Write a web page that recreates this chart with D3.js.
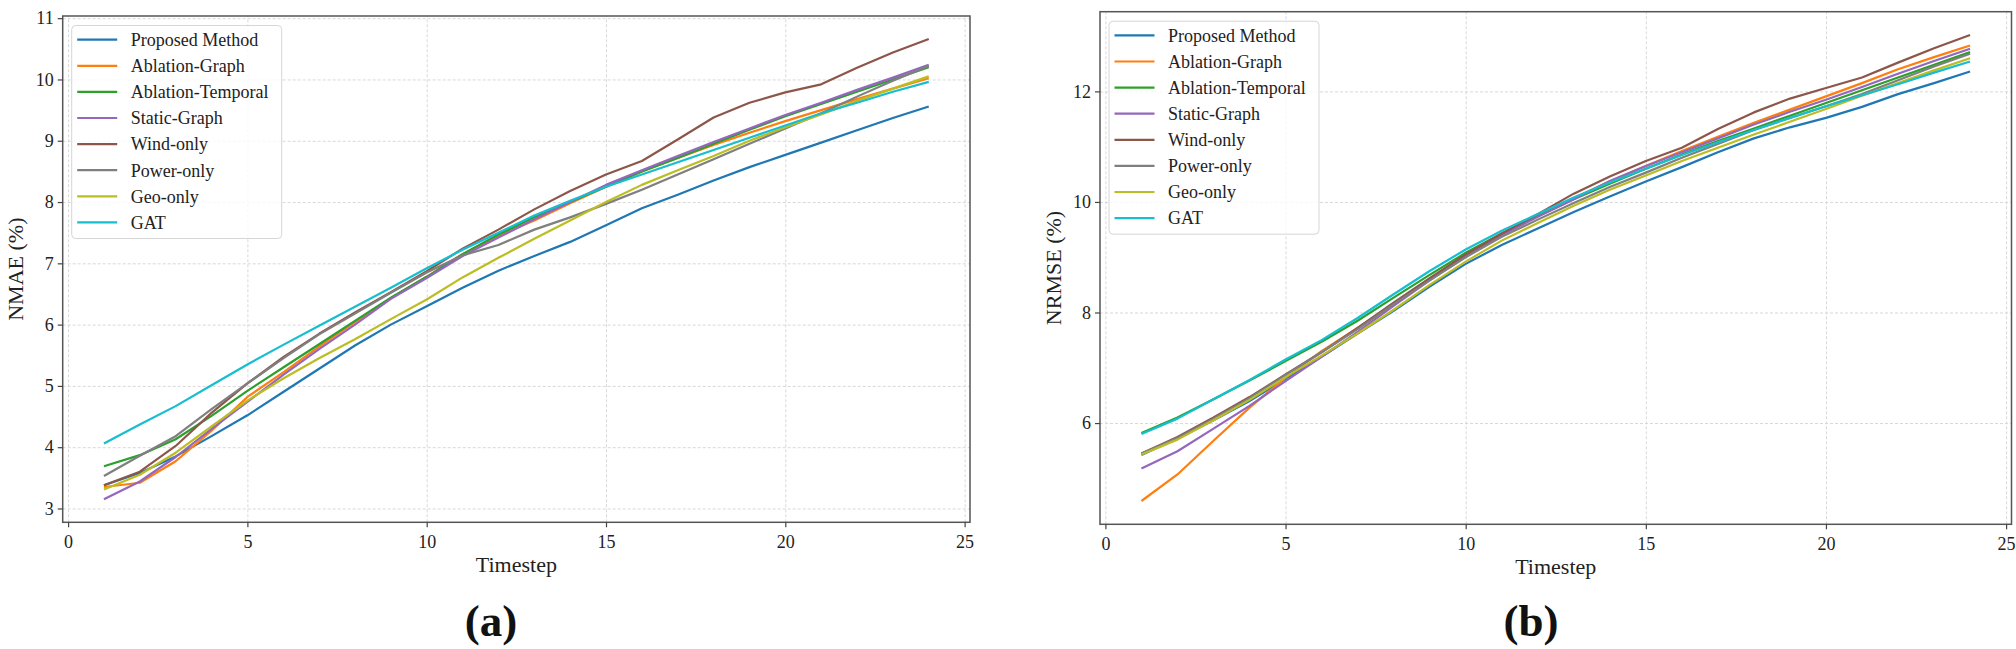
<!DOCTYPE html>
<html>
<head>
<meta charset="utf-8">
<script src="https://cdnjs.cloudflare.com/ajax/libs/d3/7.8.5/d3.min.js"></script>
<style>
  body { margin: 0; background: #fff; }
  svg { display: block; font-family: "Liberation Serif", "Times New Roman", serif; }
  .grid line { stroke: #d8d8d8; stroke-width: 1; stroke-dasharray: 3,2; }
  .grid path { display: none; }
  .axis path { display: none; }
  .axis line { stroke: #444; stroke-width: 1.2; }
  .axis text { font-family: "Liberation Serif", serif; font-size: 18px; fill: #222; }
</style>
</head>
<body>
<svg id="fig" width="2016" height="649"></svg>
<script>
// data
var timesteps = [1, 2, 3, 4, 5, 6, 7, 8, 9, 10, 11, 12, 13, 14, 15, 16, 17, 18, 19, 20, 21, 22, 23, 24];
var seriesNames = ['Proposed Method', 'Ablation-Graph', 'Ablation-Temporal', 'Static-Graph',
                   'Wind-only', 'Power-only', 'Geo-only', 'GAT'];
var seriesColors = ['#1f77b4', '#ff7f0e', '#2ca02c', '#9467bd', '#8c564b', '#7f7f7f', '#bcbd22', '#17becf'];

var xTicks = [0, 5, 10, 15, 20, 25];
var nmaeTicks = [3, 4, 5, 6, 7, 8, 9, 10, 11];
var nrmseTicks = [6, 8, 10, 12];

// (a) NMAE (%)
var nmaeProposed = [3.38, 3.58, 3.85, 4.18, 4.52, 4.9, 5.28, 5.66, 6.0, 6.3, 6.6, 6.88, 7.12, 7.35, 7.62, 7.9, 8.12, 8.35, 8.57, 8.77, 8.97, 9.17, 9.37, 9.56];
var nmaeAblGraph = [3.35, 3.42, 3.77, 4.27, 4.82, 5.22, 5.64, 6.04, 6.43, 6.78, 7.15, 7.45, 7.7, 7.98, 8.25, 8.5, 8.72, 8.93, 9.13, 9.32, 9.5, 9.68, 9.85, 10.02];
var nmaeAblTemp = [3.69, 3.87, 4.13, 4.51, 4.92, 5.3, 5.68, 6.06, 6.44, 6.78, 7.15, 7.47, 7.75, 8.0, 8.25, 8.5, 8.72, 8.95, 9.18, 9.4, 9.6, 9.8, 10.0, 10.2];
var nmaeStatic = [3.15, 3.44, 3.84, 4.3, 4.74, 5.18, 5.6, 6.0, 6.42, 6.76, 7.12, 7.42, 7.72, 8.0, 8.28, 8.52, 8.75, 8.98, 9.2, 9.42, 9.62, 9.83, 10.03, 10.24];
var nmaeWind = [3.38, 3.6, 4.02, 4.56, 5.04, 5.47, 5.85, 6.2, 6.53, 6.87, 7.24, 7.55, 7.88, 8.18, 8.45, 8.67, 9.02, 9.38, 9.62, 9.79, 9.92, 10.19, 10.44, 10.66];
var nmaePower = [3.53, 3.86, 4.18, 4.62, 5.04, 5.45, 5.84, 6.18, 6.52, 6.85, 7.13, 7.3, 7.55, 7.75, 7.97, 8.2, 8.45, 8.7, 8.95, 9.2, 9.45, 9.72, 9.98, 10.22];
var nmaeGeo = [3.31, 3.55, 3.91, 4.34, 4.76, 5.12, 5.45, 5.76, 6.09, 6.41, 6.77, 7.09, 7.4, 7.7, 8.0, 8.28, 8.52, 8.75, 9.0, 9.22, 9.43, 9.65, 9.85, 10.05];
var nmaeGat = [4.06, 4.37, 4.67, 5.01, 5.35, 5.67, 5.98, 6.29, 6.6, 6.92, 7.22, 7.5, 7.78, 8.02, 8.25, 8.45, 8.65, 8.85, 9.05, 9.25, 9.45, 9.62, 9.8, 9.96];

// (b) NRMSE (%)
var nrmseProposed = [5.42, 5.72, 6.05, 6.4, 6.8, 7.2, 7.62, 8.03, 8.47, 8.88, 9.22, 9.52, 9.82, 10.1, 10.37, 10.63, 10.9, 11.15, 11.35, 11.52, 11.72, 11.95, 12.15, 12.36];
var nrmseAblGraph = [4.59, 5.07, 5.68, 6.28, 6.82, 7.3, 7.72, 8.15, 8.6, 9.03, 9.42, 9.75, 10.07, 10.37, 10.65, 10.92, 11.18, 11.43, 11.67, 11.91, 12.15, 12.4, 12.62, 12.83];
var nrmseAblTemp = [5.82, 6.1, 6.43, 6.77, 7.12, 7.47, 7.85, 8.27, 8.68, 9.08, 9.43, 9.74, 10.05, 10.33, 10.6, 10.86, 11.1, 11.33, 11.56, 11.79, 12.02, 12.25, 12.48, 12.71];
var nrmseStatic = [5.18, 5.49, 5.9, 6.31, 6.76, 7.2, 7.65, 8.12, 8.58, 9.02, 9.4, 9.73, 10.05, 10.38, 10.65, 10.9, 11.15, 11.4, 11.63, 11.85, 12.08, 12.32, 12.55, 12.77];
var nrmseWind = [5.45, 5.75, 6.1, 6.47, 6.88, 7.28, 7.72, 8.18, 8.62, 9.05, 9.43, 9.78, 10.15, 10.46, 10.74, 10.98, 11.32, 11.62, 11.87, 12.06, 12.25, 12.52, 12.78, 13.02];
var nrmsePower = [5.45, 5.73, 6.08, 6.45, 6.87, 7.28, 7.7, 8.15, 8.58, 9.0, 9.37, 9.68, 9.98, 10.27, 10.53, 10.8, 11.05, 11.3, 11.52, 11.73, 11.95, 12.2, 12.45, 12.68];
var nrmseGeo = [5.43, 5.7, 6.05, 6.42, 6.83, 7.22, 7.62, 8.05, 8.5, 8.92, 9.3, 9.62, 9.93, 10.22, 10.48, 10.74, 10.98, 11.22, 11.45, 11.68, 11.92, 12.15, 12.38, 12.6];
var nrmseGat = [5.8, 6.08, 6.43, 6.78, 7.15, 7.5, 7.9, 8.33, 8.75, 9.14, 9.48, 9.78, 10.08, 10.35, 10.6, 10.85, 11.08, 11.3, 11.52, 11.73, 11.93, 12.13, 12.34, 12.54];

var svg = d3.select('#fig');

function makePanel(p) {
  var g = svg.append('g');
  var h = p.bottom - p.top;
  var w = p.right - p.left;

  // matplotlib style 5% margins on both axes
  var xExt = d3.extent(timesteps);
  var xPad = (xExt[1] - xExt[0]) * 0.05;
  var x = d3.scaleLinear()
    .domain([xExt[0] - xPad, xExt[1] + xPad])
    .range([p.left, p.right]);

  var yExt = d3.extent(d3.merge(p.series));
  var yPad = (yExt[1] - yExt[0]) * 0.05;
  var y = d3.scaleLinear()
    .domain([yExt[0] - yPad, yExt[1] + yPad])
    .range([p.bottom, p.top]);

  // dashed grid
  g.append('g')
    .attr('class', 'grid')
    .attr('transform', 'translate(0,' + p.bottom + ')')
    .call(d3.axisBottom(x).tickValues(xTicks).tickSize(-h).tickFormat(''));
  g.append('g')
    .attr('class', 'grid')
    .attr('transform', 'translate(' + p.left + ',0)')
    .call(d3.axisLeft(y).tickValues(p.yTicks).tickSize(-w).tickFormat(''));

  var line = d3.line()
    .x(function(d, i) { return x(timesteps[i]); })
    .y(function(d) { return y(d); });

  g.append('g').selectAll('path')
    .data(p.series)
    .enter()
    .append('path')
    .attr('d', line)
    .attr('fill', 'none')
    .attr('stroke', function(d, i) { return seriesColors[i]; })
    .attr('stroke-width', 2.2)
    .attr('stroke-linejoin', 'round');

  // spines
  g.append('rect')
    .attr('x', p.left)
    .attr('y', p.top)
    .attr('width', w)
    .attr('height', h)
    .attr('fill', 'none')
    .attr('stroke', '#555')
    .attr('stroke-width', 1.5);

  g.append('g')
    .attr('class', 'axis')
    .attr('transform', 'translate(0,' + p.bottom + ')')
    .call(d3.axisBottom(x).tickValues(xTicks).tickSize(5).tickPadding(8).tickFormat(d3.format('d')));
  g.append('g')
    .attr('class', 'axis')
    .attr('transform', 'translate(' + p.left + ',0)')
    .call(d3.axisLeft(y).tickValues(p.yTicks).tickSize(5).tickPadding(4).tickFormat(d3.format('d')));

  // axis titles
  g.append('text')
    .attr('x', (p.left + p.right) / 2)
    .attr('y', p.bottom + 50)
    .attr('text-anchor', 'middle')
    .attr('font-size', 22)
    .attr('fill', '#222')
    .text('Timestep');
  g.append('text')
    .attr('transform', 'translate(' + p.yTitleX + ',' + (p.top + p.bottom) / 2 + ') rotate(-90)')
    .attr('text-anchor', 'middle')
    .attr('font-size', 22)
    .attr('fill', '#222')
    .text(p.yTitle);

  // legend, top left
  var lg = g.append('g')
    .attr('transform', 'translate(' + (p.left + 9) + ',' + (p.top + 9.5) + ')');
  lg.append('rect')
    .attr('width', 210)
    .attr('height', 213)
    .attr('rx', 4)
    .attr('fill', '#fff')
    .attr('fill-opacity', 0.8)
    .attr('stroke', '#d6d6d6')
    .attr('stroke-width', 1);
  var rows = lg.selectAll('g.row')
    .data(seriesNames)
    .enter()
    .append('g')
    .attr('class', 'row')
    .attr('transform', function(d, i) { return 'translate(0,' + (14.2 + i * 26.1) + ')'; });
  rows.append('line')
    .attr('x1', 5.5)
    .attr('x2', 45.5)
    .attr('stroke', function(d, i) { return seriesColors[i]; })
    .attr('stroke-width', 2.2);
  rows.append('text')
    .attr('x', 59)
    .attr('dy', '0.35em')
    .attr('font-size', 18)
    .attr('fill', '#222')
    .text(function(d) { return d; });

  // panel letter
  svg.append('text')
    .attr('x', p.labelX)
    .attr('y', 636)
    .attr('text-anchor', 'middle')
    .attr('font-size', 45)
    .attr('font-weight', 'bold')
    .attr('fill', '#111')
    .text(p.label);
}

makePanel({
  left: 62.7, right: 970, top: 16, bottom: 522.3,
  series: [nmaeProposed, nmaeAblGraph, nmaeAblTemp, nmaeStatic, nmaeWind, nmaePower, nmaeGeo, nmaeGat],
  yTicks: nmaeTicks,
  yTitle: 'NMAE (%)',
  yTitleX: 23,
  label: '(a)',
  labelX: 491
});

makePanel({
  left: 1100, right: 2011.5, top: 11.7, bottom: 524.3,
  series: [nrmseProposed, nrmseAblGraph, nrmseAblTemp, nrmseStatic, nrmseWind, nrmsePower, nrmseGeo, nrmseGat],
  yTicks: nrmseTicks,
  yTitle: 'NRMSE (%)',
  yTitleX: 1061,
  label: '(b)',
  labelX: 1531
});
</script>
</body>
</html>
